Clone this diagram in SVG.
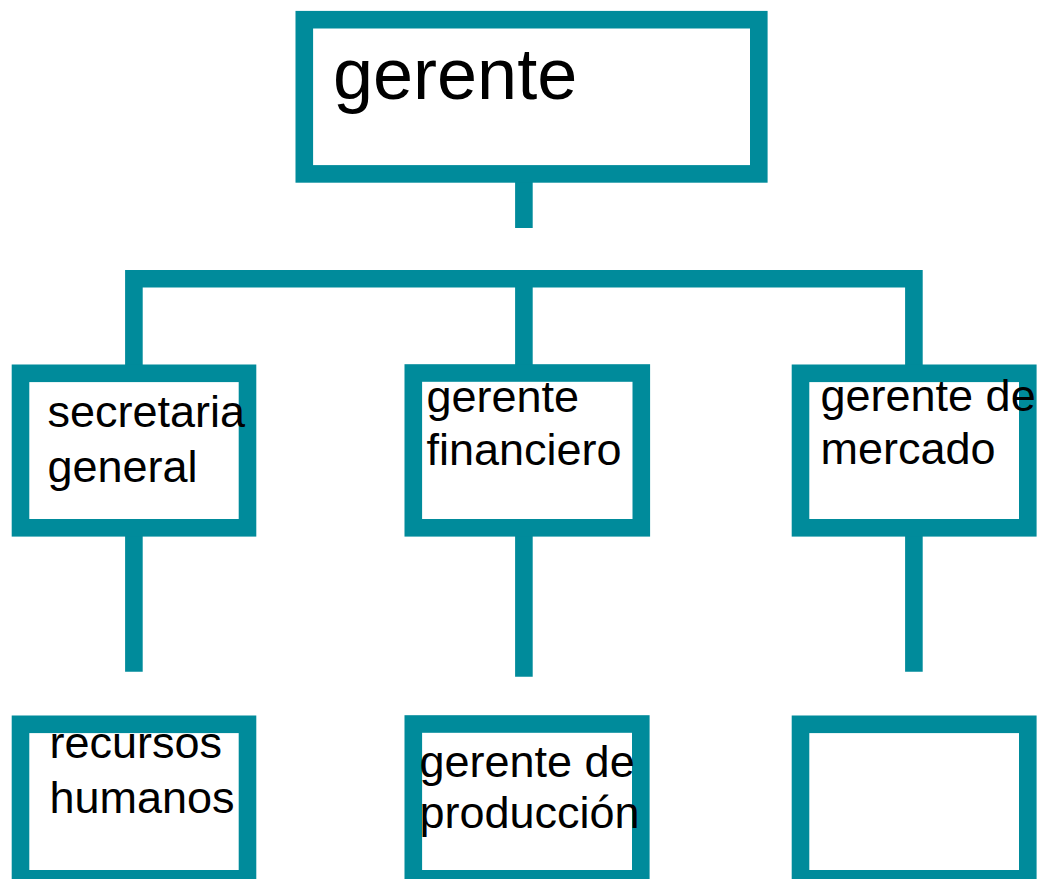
<svg xmlns="http://www.w3.org/2000/svg" width="1040" height="879" viewBox="0 0 1040 879">
<style>
.box{fill:#ffffff;stroke:#008b9b;stroke-width:17.6;stroke-linejoin:miter}
.con{fill:none;stroke:#008b9b;stroke-width:17.6;stroke-linejoin:miter;stroke-linecap:butt}
.t{font-family:"Liberation Sans",Arial,sans-serif;font-size:45px;fill:#000000}
.big{font-size:72px}
</style>
<rect width="1040" height="879" fill="#ffffff"/>
<g id="connectors">
<path class="con" d="M523.9 182 V228"/>
<path class="con" d="M133.9 365 V278.7 H913.9 V365"/>
<path class="con" d="M523.9 278 V365"/>
<path class="con" d="M133.9 536 V671.7"/>
<path class="con" d="M523.9 536 V676.7"/>
<path class="con" d="M913.9 536 V671.7"/>
</g>
<g id="node-gerente">
<rect class="box" x="304.3" y="19.7" width="454.5" height="154.2"/>
<text class="t big" x="333" y="99.3">gerente</text>
</g>
<g id="node-secretaria">
<rect class="box" x="20.5" y="373.3" width="227" height="154.5"/>
<text class="t" x="47.5" y="426.7">secretaria</text>
<text class="t" x="47.5" y="481.7">general</text>
</g>
<g id="node-financiero">
<rect class="box" x="413.3" y="373" width="228" height="154.8"/>
<text class="t" x="426.5" y="411.7">gerente</text>
<text class="t" x="426.5" y="465.3">financiero</text>
</g>
<g id="node-mercado">
<rect class="box" x="800.5" y="373.3" width="227.3" height="154.5"/>
<text class="t" x="820.5" y="410.5">gerente de</text>
<text class="t" x="820.5" y="463.5">mercado</text>
</g>
<g id="node-recursos">
<rect class="box" x="20.5" y="724.3" width="227" height="154.5"/>
<text class="t" x="49.5" y="758.3">recursos</text>
<text class="t" x="49.5" y="813">humanos</text>
</g>
<g id="node-produccion">
<rect class="box" x="413.3" y="724" width="227.5" height="154.8"/>
<text class="t" x="419.5" y="776.7">gerente de</text>
<text class="t" x="419.5" y="828.3">producción</text>
</g>
<g id="node-empty">
<rect class="box" x="800.5" y="724.3" width="227.3" height="154.5"/>
</g>
</svg>
